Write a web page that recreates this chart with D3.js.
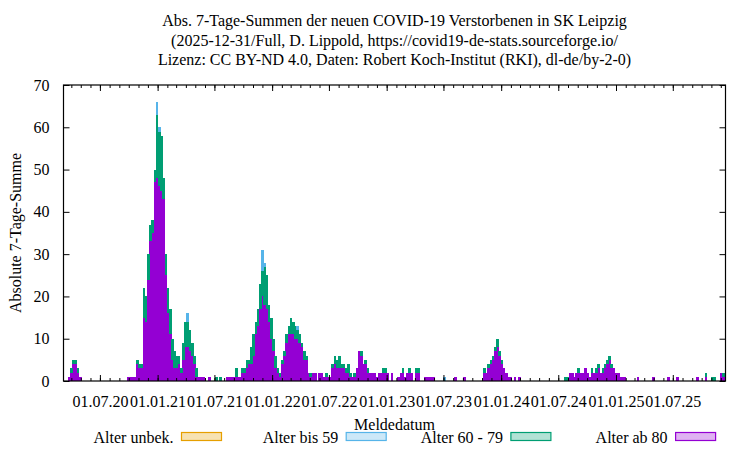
<!DOCTYPE html>
<html>
<head>
<meta charset="utf-8">
<script src="https://d3js.org/d3.v7.min.js"></script>
<style>
  body { margin: 0; background: #fff; }
  text { font-family: "Liberation Serif", "DejaVu Serif", serif; fill: #000; }
</style>
</head>
<body>
<div id="my_dataviz"></div>
<script>

// first week of the weekly bars and end of the x range
var firstWeek = "2020-03-07";
var lastDay = "2025-12-16";

// 7-day sums per week (10 weeks per row)
var ab80 = [
  0,0,1,2,4,4,2,1,0,0,
  0,0,0,0,0,0,0,0,0,0,
  0,0,0,0,0,0,0,0,0,1,
  1,1,1,4,3,3,15,14,24,33,
  35,47,48,46,45,43,25,16,11,5,
  3,3,4,2,5,8,8,7,6,4,
  1,1,1,1,0,0,1,0,0,0,
  0,0,0,0,1,1,1,1,1,1,
  1,2,2,3,4,4,6,11,13,17,
  20,18,17,14,10,7,3,2,1,4,
  6,9,11,11,11,10,10,9,8,5,
  5,2,1,2,2,0,2,2,1,1,
  1,1,3,4,3,3,3,3,2,2,
  1,1,1,3,7,6,4,4,2,2,
  2,2,1,2,2,2,2,2,0,2,
  0,0,1,2,2,1,2,2,2,0,
  2,2,0,0,1,1,1,1,1,0,
  0,0,0,0,0,0,0,0,1,0,
  0,0,1,0,0,0,0,0,0,0,
  0,2,2,3,4,5,7,8,6,4,
  3,2,1,1,0,1,0,1,0,0,
  0,0,0,0,0,0,0,0,0,0,
  0,0,0,0,0,0,0,0,0,0,
  2,2,1,2,2,2,2,3,2,1,
  2,2,2,3,2,2,3,4,5,3,
  3,2,2,1,1,1,0,0,0,0,
  0,1,0,0,0,0,0,0,1,0,
  0,0,0,0,0,1,0,0,0,1,
  0,0,0,0,0,0,0,0,1,0,
  0,0,1,0,0,0,0,0,0,2,
  1
];

var a6079 = [
  0,0,0,1,1,1,1,0,0,0,
  0,0,0,0,0,0,0,0,0,0,
  0,0,0,0,0,0,0,0,0,0,
  0,0,0,1,1,1,7,6,6,4,
  3,3,15,13,13,5,5,6,6,5,
  4,3,2,1,4,6,6,5,3,2,
  2,0,0,0,0,0,0,0,0,1,
  0,1,0,0,0,0,0,0,2,0,
  0,1,1,2,1,4,5,3,4,6,
  6,9,8,4,5,3,3,1,1,1,
  1,2,2,4,3,3,2,2,1,2,
  1,0,1,0,0,0,0,0,0,1,
  0,0,1,2,2,3,1,1,1,2,
  1,0,1,0,0,1,0,1,1,0,
  0,0,0,0,0,1,1,0,0,0,
  0,0,0,0,1,0,0,1,0,0,
  1,1,0,0,0,0,0,0,0,0,
  0,0,0,0,0,0,0,0,0,0,
  0,0,0,0,0,0,0,0,0,0,
  0,1,0,1,1,1,1,2,1,1,
  0,0,0,0,0,0,0,0,0,0,
  0,0,0,0,0,0,0,0,0,0,
  0,0,0,0,0,0,0,0,1,1,
  0,0,0,0,1,0,0,0,0,0,
  1,0,1,1,0,1,1,1,1,1,
  0,0,0,0,0,0,0,0,0,0,
  0,0,0,0,0,0,0,0,0,0,
  0,0,0,0,0,0,0,0,0,0,
  0,0,0,0,0,0,0,0,0,0,
  0,0,1,0,0,1,1,0,0,0,
  1
];

var bis59 = [
  0,0,0,0,0,0,0,0,0,0,
  0,0,0,0,0,0,0,0,0,0,
  0,0,0,0,0,0,0,0,0,0,
  0,0,0,0,0,0,0,0,0,0,
  0,0,3,1,0,0,0,0,0,0,
  0,0,0,0,0,0,2,0,0,0,
  0,0,0,0,0,0,0,0,0,0,
  0,0,0,0,0,0,0,0,0,0,
  0,0,0,0,0,0,0,0,0,0,
  5,1,0,0,0,0,0,0,0,0,
  0,0,0,0,0,0,1,0,0,0,
  0,0,0,0,0,0,0,0,0,0,
  0,0,0,0,0,0,0,0,0,0,
  0,0,0,0,0,0,0,0,0,0,
  0,0,0,0,0,0,0,0,0,0,
  0,0,0,0,0,0,0,0,0,0,
  0,0,0,0,0,0,0,0,0,0,
  0,0,0,1,0,0,0,0,0,0,
  0,0,0,0,0,0,0,0,0,0,
  0,0,0,0,0,0,0,0,0,0,
  0,0,0,0,0,0,0,0,0,0,
  0,0,0,0,0,0,0,0,0,0,
  0,0,0,0,0,0,0,0,0,0,
  0,0,0,0,0,0,0,0,0,0,
  0,0,0,0,0,0,0,0,0,0,
  0,0,0,0,0,0,0,0,0,0,
  0,0,0,0,0,0,0,0,0,0,
  0,0,0,0,0,0,0,0,0,0,
  0,0,0,0,0,0,0,0,0,0,
  0,0,0,0,0,0,0,0,0,0,
  0
];

// legend entries, in plot order ("Alter unbek." has no deaths)
var legendNames = ["Alter unbek.", "Alter bis 59", "Alter 60 - 79", "Alter ab 80"];
var legendColors = ["#e69f00", "#56b4e9", "#009e73", "#9400d3"];

var yTicks = [0, 10, 20, 30, 40, 50, 60, 70];

var titleLines = [
  "Abs. 7-Tage-Summen der neuen COVID-19 Verstorbenen in SK Leipzig",
  "(2025-12-31/Full, D. Lippold, https://covid19-de-stats.sourceforge.io/",
  "Lizenz: CC BY-ND 4.0, Daten: Robert Koch-Institut (RKI), dl-de/by-2-0)"
];

var W = 750, H = 450;
var margin = {top: 85, right: 24.5, bottom: 69, left: 63.5},
    width = W - margin.left - margin.right,
    height = H - margin.top - margin.bottom;

var svgRoot = d3.select("#my_dataviz")
  .append("svg")
    .attr("width", W)
    .attr("height", H);

var svg = svgRoot.append("g")
    .attr("transform", "translate(" + margin.left + "," + margin.top + ")");

var parse = d3.timeParse("%Y-%m-%d");
var t0 = parse(firstWeek), t1 = parse(lastDay);

var x = d3.scaleTime().domain([t0, t1]).range([0, width]);
var y = d3.scaleLinear().domain([0, 70]).range([height, 0]);

// table for the stack
var weeks = ab80.map(function(v, i) {
  return {date: d3.timeDay.offset(t0, 7 * i), ab80: v, a6079: a6079[i], bis59: bis59[i]};
});

var keys = ["ab80", "a6079", "bis59"];
var keyColor = {ab80: "#9400d3", a6079: "#009e73", bis59: "#56b4e9"};
var stacked = d3.stack().keys(keys)(weeks);

svg.append("defs").append("clipPath").attr("id", "clip")
  .append("rect").attr("width", width).attr("height", height);

var bars = svg.append("g")
  .attr("clip-path", "url(#clip)")
  .attr("shape-rendering", "crispEdges");
bars.selectAll("g")
  .data(stacked)
  .enter()
  .append("g")
    .attr("fill", function(d) { return keyColor[d.key]; })
  .selectAll("rect")
  .data(function(d) { return d.filter(function(s) { return s[1] > s[0]; }); })
  .enter()
  .append("rect")
    .attr("x", function(d) { return x(d.data.date); })
    .attr("width", function(d) { return x(d3.timeDay.offset(d.data.date, 7)) - x(d.data.date) + 0.5; })
    .attr("y", function(d) { return y(d[1]); })
    .attr("height", function(d) { return y(d[0]) - y(d[1]); });

// x ticks: half-year major, monthly minor, mirrored on top
var majors = d3.timeMonth.every(6).range(t0, t1);
var minors = d3.timeMonth.every(1).range(t0, t1);
var fmt = d3.timeFormat("%d.%m.%y");

svg.append("g")
  .attr("transform", "translate(0," + height + ")")
  .call(d3.axisBottom(x).tickValues(minors).tickSize(-3).tickFormat(""))
  .call(function(g) { g.select(".domain").remove(); });
svg.append("g")
  .call(d3.axisTop(x).tickValues(minors).tickSize(-3).tickFormat(""))
  .call(function(g) { g.select(".domain").remove(); });
svg.append("g")
  .attr("class", "xmajor")
  .attr("transform", "translate(0," + height + ")")
  .call(d3.axisBottom(x).tickValues(majors).tickSize(-6).tickPadding(15).tickFormat(fmt))
  .call(function(g) { g.select(".domain").remove(); });
svg.append("g")
  .call(d3.axisTop(x).tickValues(majors).tickSize(-6).tickFormat(""))
  .call(function(g) { g.select(".domain").remove(); });

// y ticks on both sides
svg.append("g")
  .call(d3.axisLeft(y).tickValues(yTicks).tickSize(-6).tickPadding(14))
  .call(function(g) { g.select(".domain").remove(); });
svg.append("g")
  .attr("transform", "translate(" + width + ",0)")
  .call(d3.axisRight(y).tickValues(yTicks).tickSize(-6).tickFormat(""))
  .call(function(g) { g.select(".domain").remove(); });

svg.selectAll(".tick line").attr("stroke", "#000");
svg.selectAll(".tick text")
  .style("font-family", "'Liberation Serif', serif")
  .style("font-size", "16px");

// frame
svg.append("rect")
  .attr("width", width).attr("height", height)
  .attr("fill", "none").attr("stroke", "#000").attr("stroke-width", 1.2);

// titles and axis labels
svgRoot.append("g").selectAll("text")
  .data(titleLines)
  .enter()
  .append("text")
    .attr("x", margin.left + width / 2)
    .attr("y", function(d, i) { return 26 + i * 19.5; })
    .attr("text-anchor", "middle")
    .style("font-size", "16px")
    .text(function(d) { return d; });

svgRoot.append("text")
  .attr("transform", "translate(21," + (margin.top + height / 2) + ") rotate(-90)")
  .attr("text-anchor", "middle")
  .style("font-size", "16px")
  .text("Absolute 7-Tage-Summe");

svgRoot.append("text")
  .attr("x", margin.left + width / 2)
  .attr("y", 430)
  .attr("text-anchor", "middle")
  .style("font-size", "16px")
  .text("Meldedatum");

// legend
var legend = svgRoot.append("g").selectAll("g")
  .data(legendNames)
  .enter()
  .append("g")
    .attr("transform", function(d, i) { return "translate(" + (181.5 + i * 164.7) + ",432.5)"; });
legend.append("text")
  .attr("x", -8).attr("y", 10)
  .attr("text-anchor", "end")
  .style("font-size", "16px")
  .text(function(d) { return d; });
legend.append("rect")
  .attr("width", 40).attr("height", 8)
  .attr("fill", function(d, i) { return legendColors[i]; })
  .attr("fill-opacity", 0.3)
  .attr("stroke", function(d, i) { return legendColors[i]; })
  .attr("stroke-width", 1.2);

</script>
</body>
</html>
